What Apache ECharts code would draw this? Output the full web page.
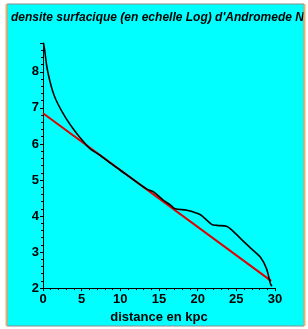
<!DOCTYPE html>
<html>
<head>
<meta charset="utf-8">
<script src="https://cdn.jsdelivr.net/npm/echarts@6/dist/echarts.min.js"></script>
<style>
html, body { margin: 0; padding: 0; background: #fff; }
#main { width: 308px; height: 329px; }
</style>
</head>
<body>
<div id="main"></div>
<script>
// profil de densite (log) - courbe noire
var distX = [0.05, 0.15, 0.26, 0.47, 0.7, 0.9, 1.1, 1.33, 1.6, 2.0, 2.5, 3.06, 3.9, 4.77, 6.06, 7.35, 8.5, 10, 12, 13.5, 14.3, 15.5, 16.5, 17.1, 18.6, 20.3, 21.8, 22.5, 23.8, 24.8, 26.1, 27.0, 28.1, 28.9, 29.4, 29.6];
var densY = [8.8, 8.7, 8.53, 8.18, 7.92, 7.74, 7.57, 7.41, 7.26, 7.08, 6.88, 6.68, 6.42, 6.18, 5.87, 5.69, 5.5, 5.27, 4.96, 4.74, 4.67, 4.45, 4.3, 4.2, 4.16, 4.04, 3.77, 3.74, 3.71, 3.53, 3.26, 3.08, 2.86, 2.54, 2.13, 2.05];
// ajustement lineaire - droite rouge
var fitX = [0, 29.5];
var fitY = [6.85, 2.2];

var xTicks = [0, 5, 10, 15, 20, 25, 30];

var profil = [];
for (var i = 0; i < distX.length; i++) {
    profil.push([distX[i], densY[i]]);
}
var droite = [];
for (var j = 0; j < fitX.length; j++) {
    droite.push([fitX[j], fitY[j]]);
}

var myChart = echarts.init(document.getElementById("main"));
var lblStyle = { color: "#000", fontWeight: "bold", fontSize: 13, fontFamily: "Liberation Sans" };

myChart.setOption({
    animation: false,
    backgroundColor: "#fff",
    graphic: [
        { type: "rect", shape: { x: 7, y: 4, width: 297, height: 322 }, style: { fill: "#00FFFF", stroke: "#8a8a8a", lineWidth: 1 }, z: -10 },
        { type: "line", shape: { x1: 6.5, y1: 4, x2: 6.5, y2: 326 }, style: { stroke: "#E8B070", lineWidth: 2 }, z: 100 },
        { type: "rect", shape: { x: 305, y: 0, width: 10, height: 329 }, style: { fill: "#fff" }, z: 99 },
        { type: "line", shape: { x1: 304.5, y1: 4, x2: 304.5, y2: 326 }, style: { stroke: "#E8B070", lineWidth: 2 }, z: 100 }
    ],
    title: {
        text: "densite surfacique (en echelle Log) d'Andromede NE",
        left: 6,
        top: 7,
        textStyle: { color: "#000", fontSize: 12, fontWeight: "bold", fontStyle: "italic", fontFamily: "Liberation Sans" }
    },
    grid: { left: 43, right: 33, top: 43, bottom: 34 },
    xAxis: {
        type: "value",
        min: 0,
        max: 30,
        interval: 5,
        name: "distance en kpc",
        nameLocation: "middle",
        nameGap: 20,
        nameTextStyle: lblStyle,
        axisLine: { lineStyle: { color: "#000", width: 1 } },
        axisTick: { show: true, length: 3, lineStyle: { color: "#000" } },
        minorTick: { show: true, splitNumber: 5, length: 2, lineStyle: { color: "#000" } },
        axisLabel: Object.assign({ margin: 5, customValues: xTicks }, lblStyle),
        splitLine: { show: false }
    },
    yAxis: {
        type: "value",
        min: 2,
        max: 8.8,
        interval: 1,
        axisLine: { show: true, lineStyle: { color: "#000", width: 1 } },
        axisTick: { show: true, length: 3, lineStyle: { color: "#000" } },
        minorTick: { show: true, splitNumber: 5, length: 2, lineStyle: { color: "#000" } },
        axisLabel: Object.assign({ margin: 4, showMaxLabel: false }, lblStyle),
        splitLine: { show: false }
    },
    series: [
        {
            type: "line",
            data: droite,
            symbol: "none",
            lineStyle: { color: "#E00000", width: 2 },
            z: 2
        },
        {
            type: "line",
            data: profil,
            symbol: "none",
            smooth: 0.3,
            lineStyle: { color: "#000", width: 1.6 },
            z: 3
        }
    ]
});
</script>
</body>
</html>
